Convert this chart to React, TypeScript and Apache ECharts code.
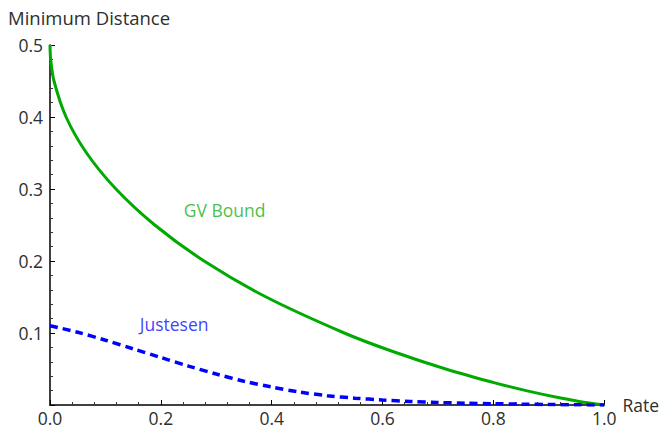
import React, { useEffect, useRef } from "react";
import * as echarts from "echarts";

// GV bound (rate, minimum distance)
const gvRate = [0, 0.0012, 0.0072, 0.029, 0.066, 0.119, 0.189, 0.278, 0.39, 0.531, 0.616, 0.714, 0.806, 0.859, 0.919, 0.955, 1];
const gvDist = [0.5, 0.48, 0.45, 0.4, 0.35, 0.3, 0.25, 0.2, 0.15, 0.1, 0.075, 0.05, 0.03, 0.02, 0.01, 0.005, 0];

// Justesen bound (rate, minimum distance)
const juRate = [0, 0.05, 0.1, 0.15, 0.2, 0.25, 0.3, 0.35, 0.4, 0.45, 0.5, 0.55, 0.6, 0.65, 0.7, 0.75, 0.8, 0.85, 0.9, 0.95, 1];
const juDist = [0.11, 0.101, 0.09, 0.078, 0.066, 0.054, 0.043, 0.033, 0.025, 0.018, 0.013, 0.0095, 0.007, 0.005, 0.0035, 0.0025, 0.0018, 0.0012, 0.0007, 0.0003, 0];

// Curve labels: [rate, distance, text, colour]
const curveLabels: [number, number, string, string][] = [
  [0.315, 0.271, "GV Bound", "#14b014"],
  [0.224, 0.1125, "Justesen", "#0a0aff"],
];

const FONT = "Open Sans";
const TEXT = "#2e2e2e";

export default function App() {
  const ref = useRef<HTMLDivElement>(null);
  useEffect(() => {
    if (!ref.current) return;
    const chart = echarts.init(ref.current, undefined, { renderer: "svg" });
    chart.setOption({
      animation: false,
      title: {
        text: "Minimum Distance",
        left: 8,
        top: 8,
        padding: 0,
        textStyle: { fontFamily: FONT, fontSize: 18.5, fontWeight: "normal", color: TEXT },
      },
      grid: { left: 50, right: 54, top: 45, bottom: 27, containLabel: false },
      xAxis: {
        type: "value",
        min: 0,
        max: 1,
        interval: 0.2,
        name: "Rate",
        nameLocation: "end",
        nameGap: 14,
        nameTextStyle: { fontFamily: FONT, fontSize: 17.5, color: TEXT, padding: [0, 0, 14, 0] },
        axisLine: { show: true, onZero: false, lineStyle: { color: "#000", width: 1.5 } },
        axisTick: { show: true, inside: true, length: 5, lineStyle: { color: "#000", width: 1 } },
        minorTick: { show: true, splitNumber: 5, length: 3, lineStyle: { color: "#333", width: 1 } },
        splitLine: { show: false },
        axisLabel: {
          fontFamily: FONT,
          fontSize: 17.5,
          color: TEXT,
          margin: 4,
          formatter: (v: number) => v.toFixed(1),
        },
      },
      yAxis: {
        type: "value",
        min: 0,
        max: 0.5,
        interval: 0.1,
        axisLine: { show: true, onZero: false, lineStyle: { color: "#000", width: 1.5 } },
        axisTick: { show: true, inside: true, length: 5, lineStyle: { color: "#000", width: 1 } },
        minorTick: { show: true, splitNumber: 5, length: 3, lineStyle: { color: "#333", width: 1 } },
        splitLine: { show: false },
        axisLabel: {
          fontFamily: FONT,
          fontSize: 17.5,
          color: TEXT,
          margin: 7,
          formatter: (v: number) => (v === 0 ? "" : v.toFixed(1)),
        },
      },
      series: [
        {
          type: "line",
          data: gvRate.map((r, i) => [r, gvDist[i]]),
          smooth: 0.3,
          showSymbol: false,
          lineStyle: { color: "#00aa00", width: 3 },
        },
        {
          type: "line",
          data: juRate.map((r, i) => [r, juDist[i]]),
          smooth: 0.3,
          showSymbol: false,
          lineStyle: { color: "#0000ff", width: 3.5, type: [8, 5] },
        },
        {
          type: "scatter",
          symbolSize: 0,
          data: curveLabels.map(([r, d, t, c]) => ({
            value: [r, d],
            label: {
              show: true,
              position: "inside",
              formatter: t,
              color: c,
              fontFamily: FONT,
              fontSize: 17.5,
            },
          })),
        },
      ],
    });
    return () => chart.dispose();
  }, []);
  return (
    <div
      ref={ref}
      style={{ position: "absolute", left: 0, top: 0, width: 662, height: 432 }}
    />
  );
}
